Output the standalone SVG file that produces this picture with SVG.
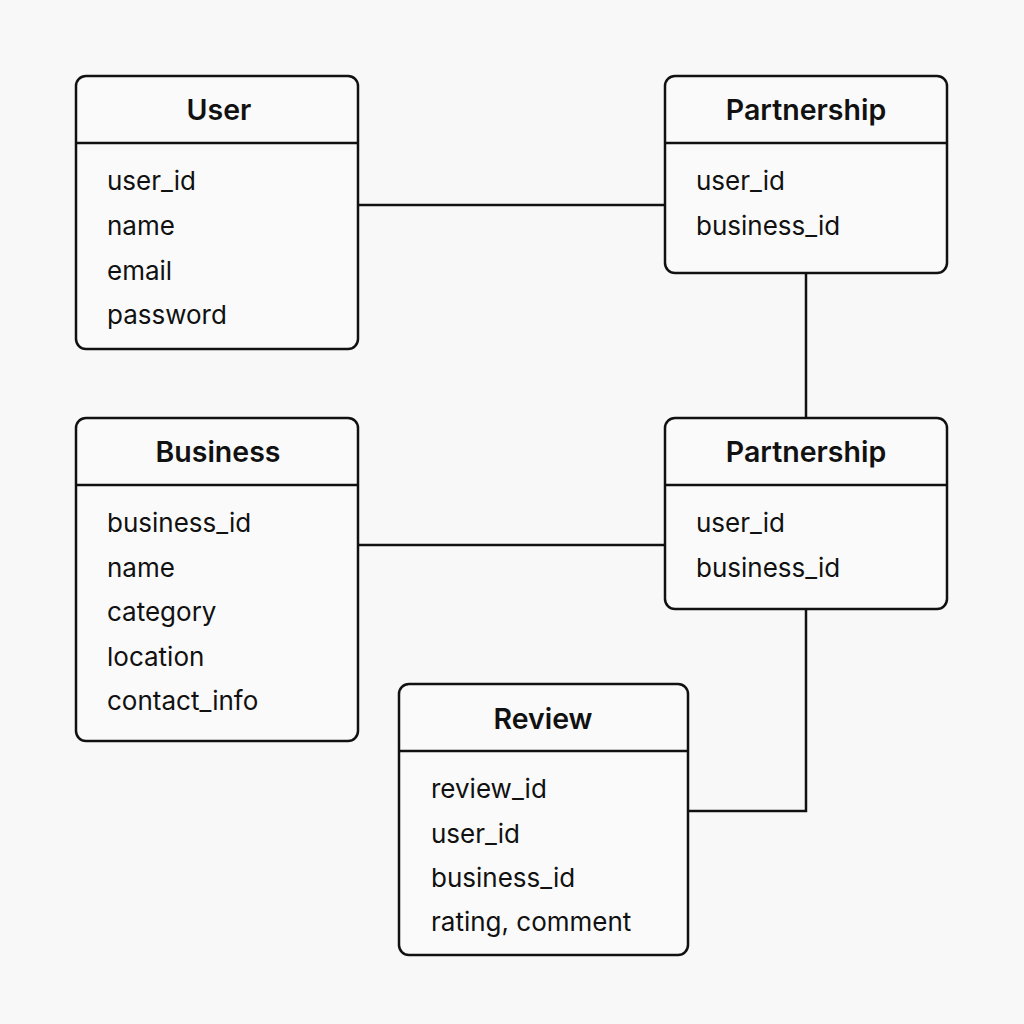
<svg xmlns="http://www.w3.org/2000/svg" width="1024" height="1024" viewBox="0 0 1024 1024">
<style>
.box{fill:#fafafa;stroke:#111;stroke-width:2.5}
.sep{stroke:#111;stroke-width:2.5}
.title{font-family:Inter,"Liberation Sans",sans-serif;font-size:28.5px;font-weight:600;fill:#111;text-anchor:middle}
.field{font-family:Inter,"Liberation Sans",sans-serif;font-size:26px;fill:#111}
.conn{fill:none;stroke:#111;stroke-width:2.5}
</style>
<rect width="1024" height="1024" fill="#f8f8f8"/>
<g id="connectors">
<line class="conn" x1="358" y1="205" x2="665" y2="205"/>
<line class="conn" x1="806" y1="273" x2="806" y2="418"/>
<line class="conn" x1="358" y1="545" x2="665" y2="545"/>
<polyline class="conn" points="806,609 806,811 688,811"/>
</g>
<g id="user">
<rect class="box" x="76" y="76" width="282" height="273" rx="10"/>
<line class="sep" x1="76" y1="143" x2="358" y2="143"/>
<text class="title" x="219" y="120">User</text>
<text class="field" x="107" y="190">user_id</text>
<text class="field" x="107" y="235">name</text>
<text class="field" x="107" y="280">email</text>
<text class="field" x="107" y="324">password</text>
</g>
<g id="partnership1">
<rect class="box" x="665" y="76" width="282" height="197" rx="10"/>
<line class="sep" x1="665" y1="143" x2="947" y2="143"/>
<text class="title" x="806" y="120">Partnership</text>
<text class="field" x="696" y="190">user_id</text>
<text class="field" x="696" y="235">business_id</text>
</g>
<g id="business">
<rect class="box" x="76" y="418" width="282" height="323" rx="10"/>
<line class="sep" x1="76" y1="485" x2="358" y2="485"/>
<text class="title" x="218" y="462">Business</text>
<text class="field" x="107" y="532">business_id</text>
<text class="field" x="107" y="577">name</text>
<text class="field" x="107" y="621">category</text>
<text class="field" x="107" y="666">location</text>
<text class="field" x="107" y="710">contact_info</text>
</g>
<g id="partnership2">
<rect class="box" x="665" y="418" width="282" height="191" rx="10"/>
<line class="sep" x1="665" y1="485" x2="947" y2="485"/>
<text class="title" x="806" y="462">Partnership</text>
<text class="field" x="696" y="532">user_id</text>
<text class="field" x="696" y="577">business_id</text>
</g>
<g id="review">
<rect class="box" x="399" y="684" width="289" height="271" rx="10"/>
<line class="sep" x1="399" y1="751" x2="688" y2="751"/>
<text class="title" x="543" y="729">Review</text>
<text class="field" x="431" y="798">review_id</text>
<text class="field" x="431" y="843">user_id</text>
<text class="field" x="431" y="887">business_id</text>
<text class="field" x="431" y="931">rating, comment</text>
</g>
</svg>
